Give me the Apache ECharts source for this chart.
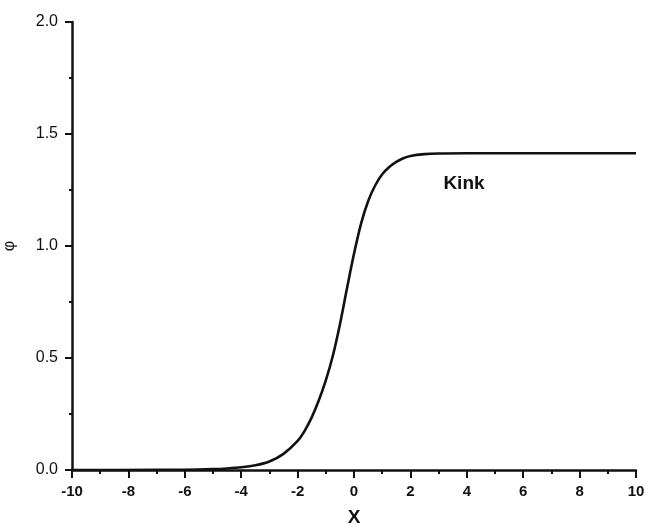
<!DOCTYPE html>
<html>
<head>
<meta charset="utf-8">
<script src="https://cdn.jsdelivr.net/npm/echarts@6/dist/echarts.min.js"></script>
<style>
  html, body { margin: 0; padding: 0; background: #fff; }
  #chart { width: 646px; height: 524px; }
</style>
</head>
<body>
<div id="chart"></div>
<script>
// Kink profile φ(x)
const xValues = [-10, -7, -6, -5, -4.5, -4, -3.5, -3, -2.5, -2, -1.75, -1.5, -1.25, -1, -0.75, -0.5, -0.25, 0, 0.25, 0.5, 0.75, 1, 1.25, 1.5, 1.75, 2, 2.5, 3, 4, 6, 8, 10];
const phiValues = [0, 0.0005, 0.001, 0.004, 0.007, 0.012, 0.021, 0.038, 0.072, 0.13, 0.175, 0.235, 0.31, 0.40, 0.51, 0.65, 0.81, 0.965, 1.10, 1.20, 1.27, 1.32, 1.353, 1.376, 1.392, 1.402, 1.410, 1.413, 1.414, 1.414, 1.414, 1.414];
const curveLabel = 'Kink';
const curveLabelAt = [3.9, 1.28];

const points = xValues.map((x, i) => [x, phiValues[i]]);
const font = '"Liberation Sans", Arial, sans-serif';

const chart = echarts.init(document.getElementById('chart'), null, { renderer: 'canvas' });
chart.setOption({
  animation: false,
  backgroundColor: '#ffffff',
  grid: { left: 72, right: 10, top: 22, bottom: 54, containLabel: false, outerBoundsMode: 'none' },
  xAxis: {
    type: 'value',
    min: -10, max: 10, interval: 2,
    name: 'X',
    nameLocation: 'middle',
    nameGap: 38,
    nameTextStyle: { fontFamily: font, fontSize: 19, fontWeight: 'bold', color: '#111' },
    axisLine: { show: true, onZero: false, lineStyle: { color: '#111', width: 2.5 } },
    axisTick: { show: true, inside: false, length: 8, lineStyle: { color: '#111', width: 2 } },
    minorTick: { show: true, splitNumber: 2, length: 4, lineStyle: { color: '#111', width: 2 } },
    axisLabel: { fontFamily: font, fontSize: 15, fontWeight: 'bold', color: '#111', margin: 14 },
    splitLine: { show: false }
  },
  yAxis: {
    type: 'value',
    min: 0, max: 2, interval: 0.5,
    name: 'φ',
    nameLocation: 'middle',
    nameGap: 54,
    nameRotate: 90,
    nameTextStyle: { fontFamily: font, fontSize: 16, color: '#111' },
    axisLine: { show: true, onZero: false, lineStyle: { color: '#111', width: 2.5 } },
    axisTick: { show: true, inside: false, length: 7, lineStyle: { color: '#111', width: 2 } },
    minorTick: { show: true, splitNumber: 2, length: 3, lineStyle: { color: '#111', width: 2 } },
    axisLabel: {
      fontFamily: font, fontSize: 16, color: '#111', margin: 14,
      formatter: v => v.toFixed(1)
    },
    splitLine: { show: false }
  },
  series: [{
    type: 'line',
    data: points,
    smooth: 0.3,
    showSymbol: false,
    lineStyle: { color: '#111', width: 2.6 },
    markPoint: {
      symbol: 'circle',
      symbolSize: 0,
      silent: true,
      data: [{ coord: curveLabelAt, value: curveLabel }],
      label: {
        show: true,
        formatter: curveLabel,
        fontFamily: font, fontSize: 19, fontWeight: 'bold', color: '#111',
        position: 'inside'
      }
    }
  }]
});
</script>
</body>
</html>
